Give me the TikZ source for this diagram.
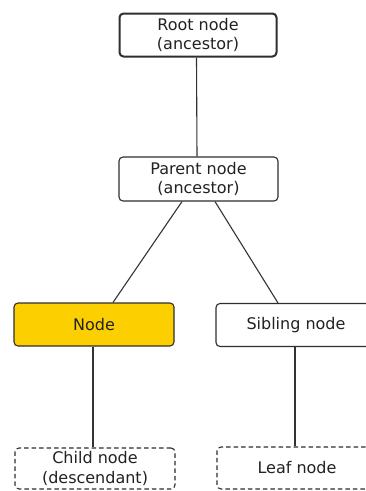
\documentclass[tikz,border=0pt]{standalone}
\usepackage{fontspec}
\setmainfont{DejaVu Sans}
\definecolor{boxline}{HTML}{2E2E2E}
\definecolor{textc}{HTML}{222222}
\definecolor{gold}{HTML}{FCD000}
\definecolor{edgec}{HTML}{333333}
\begin{document}
\begin{tikzpicture}[x=1pt,y=1pt,
  treebox/.style={draw=boxline, line width=1.1pt, rounded corners=4pt, fill=white,
    minimum width=160pt, minimum height=43pt, inner sep=0pt, align=center,
    text=textc, font=\fontsize{16}{19.5}\selectfont},
  rootbox/.style={treebox, line width=2pt, minimum width=157pt, minimum height=43pt},
  focusbox/.style={treebox, fill=gold},
  dashbox/.style={treebox, dash pattern=on 4.5pt off 3pt, minimum height=41pt},
  link/.style={draw=edgec, line width=1.1pt}]
\useasboundingbox (0,0) rectangle (366,-491);
\node[rootbox] (root) at (198,-35) {Root node\\(ancestor)};
\node[treebox, minimum width=159pt, minimum height=44pt] (parent) at (198.5,-179) {Parent node\\(ancestor)};
\node[focusbox] (node) at (94,-324.5) {Node};
\node[treebox] (sib) at (296,-325) {Sibling node};
\node[dashbox] (child) at (95,-468.5) {Child node\\(descendant)};
\node[dashbox, minimum height=42pt] (leaf) at (297,-468) {Leaf node};
\draw[link] ([xshift=-1.5pt]root.south) -- ([xshift=-1.5pt]parent.north);
\draw[link] ([xshift=-16.5pt]parent.south) -- ([xshift=19pt]node.north);
\draw[link] ([xshift=16.5pt]parent.south) -- ([xshift=-18pt]sib.north);
\draw[link] ([xshift=-1pt]node.south) -- ([xshift=-2pt]child.north);
\draw[link] ([xshift=-1pt]sib.south) -- ([xshift=-2pt]leaf.north);
\end{tikzpicture}
\end{document}
